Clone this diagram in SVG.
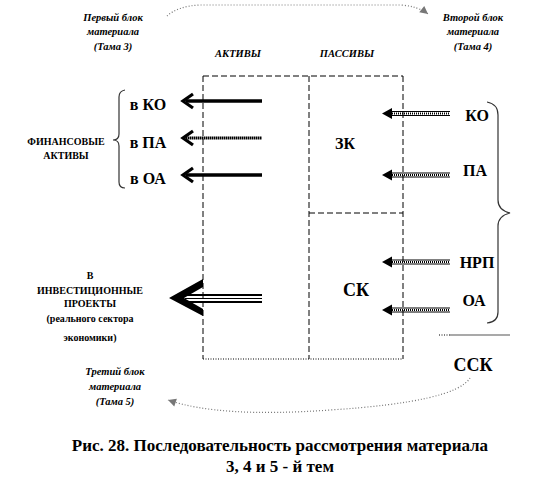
<svg xmlns="http://www.w3.org/2000/svg" width="559" height="498" viewBox="0 0 559 498">
<style>
text{font-family:'Liberation Serif','Times New Roman',serif;font-weight:bold;fill:#000;text-anchor:middle;dominant-baseline:central}
.sm{font-size:10.5px;font-style:italic}
.md{font-size:16px}
.lg{font-size:18px}
.fa{font-size:10px}
.cap{font-size:17px}
.box{fill:none;stroke:#000;stroke-width:1;stroke-dasharray:6 3}
.dot{fill:none;stroke:#000;stroke-width:1;stroke-dasharray:1 1.5}
.thick{stroke:#000;stroke-width:3.5;fill:none}
.hatch{stroke:#000;stroke-width:3;stroke-dasharray:1.5 0.5;fill:none}
.dbl{stroke:#000;stroke-width:1;fill:none}
.mid{stroke:#000;stroke-width:2;stroke-dasharray:1 1;fill:none}
.head{stroke:#000;stroke-width:3.2;fill:none;stroke-linejoin:miter}
.rhead{fill:#000}
.brace{fill:none;stroke:#333;stroke-width:1.2}
.flow{fill:none;stroke:#777;stroke-width:1.2;stroke-dasharray:1 2}
</style>
<defs>
<marker id="grey" markerWidth="10" markerHeight="10" refX="9" refY="5" orient="auto" markerUnits="userSpaceOnUse">
<path d="M1,1 L9,5 L1,9 Z" fill="#777"/>
</marker>
</defs>
<rect width="559" height="498" fill="#fff"/>

<g id="frame">
<line class="box" x1="203" y1="76" x2="403" y2="76"/>
<line class="box" x1="203" y1="76" x2="203" y2="359"/>
<line class="box" x1="309" y1="76" x2="309" y2="359"/>
<line class="box" x1="403" y1="76" x2="403" y2="359"/>
<line class="box" x1="309" y1="213" x2="403" y2="213"/>
<line class="dot" x1="203" y1="359" x2="403" y2="359"/>
</g>

<g id="hdr-aktivy"><text class="sm" x="238" y="53">АКТИВЫ</text></g>
<g id="hdr-passivy"><text class="sm" x="347" y="53">ПАССИВЫ</text></g>
<g id="block1"><text class="sm" x="113" y="17">Первый блок</text><text class="sm" x="113" y="31">материала</text><text class="sm" x="113" y="46">(Тама 3)</text></g>
<g id="block2"><text class="sm" x="473" y="17">Второй блок</text><text class="sm" x="473" y="31">материала</text><text class="sm" x="473" y="46">(Тама 4)</text></g>
<g id="block3"><text class="sm" x="115" y="371">Третий блок</text><text class="sm" x="115" y="386">материала</text><text class="sm" x="115" y="401">(Тама 5)</text></g>
<g id="fin"><text class="fa" x="66" y="141">ФИНАНСОВЫЕ</text><text class="fa" x="66" y="155">АКТИВЫ</text></g>
<g id="vko"><text class="md" x="148" y="104">в КО</text></g>
<g id="vpa"><text class="md" x="148" y="142">в ПА</text></g>
<g id="voa"><text class="md" x="148" y="178">в ОА</text></g>
<g id="invest">
<text class="fa" x="90" y="275">В</text>
<text class="fa" x="90" y="290">ИНВЕСТИЦИОННЫЕ</text>
<text class="fa" x="90" y="303">ПРОЕКТЫ</text>
<text class="fa" x="90" y="318">(реального сектора</text>
<text class="fa" x="90" y="337">экономики)</text>
</g>
<g id="zk"><text class="md" x="345" y="143">ЗК</text></g>
<g id="sk"><text class="lg" x="356" y="290">СК</text></g>
<g id="ko"><text class="md" x="477" y="115">КО</text></g>
<g id="pa"><text class="md" x="475" y="170">ПА</text></g>
<g id="nrp"><text class="md" x="477" y="262">НРП</text></g>
<g id="oa"><text class="md" x="474" y="300">ОА</text></g>
<g id="ssk"><text class="lg" x="473" y="365">ССК</text></g>

<g id="connectors">
<line class="thick" x1="186" y1="101" x2="262" y2="101"/>
<path class="head" d="M193,94 L183,101 L193,108"/>
<line class="hatch" x1="186" y1="138" x2="262" y2="138"/>
<path class="head" d="M193,131 L183,138 L193,145"/>
<line class="thick" x1="186" y1="175" x2="262" y2="175"/>
<path class="head" d="M193,168 L183,175 L193,182"/>
<line stroke="#000" stroke-width="2" x1="185" y1="295" x2="262" y2="295"/>
<line stroke="#000" stroke-width="1" x1="185" y1="298.5" x2="262" y2="298.5"/>
<line stroke="#000" stroke-width="2" x1="185" y1="302" x2="262" y2="302"/>
<path d="M169,298 L203,279 L203,287 L184,298 L203,309 L203,316 Z" fill="#000"/>
<line class="dbl" x1="390" y1="111.5" x2="450" y2="111.5"/><line class="dbl" x1="390" y1="115.5" x2="450" y2="115.5"/><line class="mid" x1="390" y1="113.5" x2="450" y2="113.5"/>
<path class="rhead" d="M382,113.5 L392,108 L392,119 Z"/>
<line class="dbl" x1="390" y1="173" x2="450" y2="173"/><line class="dbl" x1="390" y1="177" x2="450" y2="177"/><line class="mid" x1="390" y1="175" x2="450" y2="175"/>
<path class="rhead" d="M382,175 L392,169.5 L392,180.5 Z"/>
<line class="dbl" x1="390" y1="260" x2="450" y2="260"/><line class="dbl" x1="390" y1="264" x2="450" y2="264"/><line class="mid" x1="390" y1="262" x2="450" y2="262"/>
<path class="rhead" d="M382,262 L392,256.5 L392,267.5 Z"/>
<line class="dbl" x1="390" y1="308" x2="450" y2="308"/><line class="dbl" x1="390" y1="312" x2="450" y2="312"/><line class="mid" x1="390" y1="310" x2="450" y2="310"/>
<path class="rhead" d="M382,310 L392,304.5 L392,315.5 Z"/>
<path class="brace" d="M125,90 Q119,91 119,97 L119,134 Q119,140 113,140 Q119,140 119,146 L119,182 Q119,188 125,188"/>
<path class="brace" d="M487,102 Q498,104 498,115 L498,200 Q498,210 510,213 Q498,216 498,226 L498,312 Q498,322 487,323"/>
<line class="dot" x1="439" y1="335" x2="450" y2="335"/>
<line stroke="#555" stroke-width="1.2" x1="450" y1="335" x2="510" y2="335"/>
<path class="flow" d="M167,16 Q178,6 200,5 L400,5 Q418,6 428,14" marker-end="url(#grey)"/>
<path class="flow" d="M470,378 Q455,402 330,410 Q220,418 168,400" marker-end="url(#grey)"/>
</g>

<g id="caption">
<text class="cap" x="280" y="445">Рис. 28. Последовательность рассмотрения материала</text>
<text class="cap" x="280" y="466">3, 4 и 5 - й тем</text>
</g>
</svg>
